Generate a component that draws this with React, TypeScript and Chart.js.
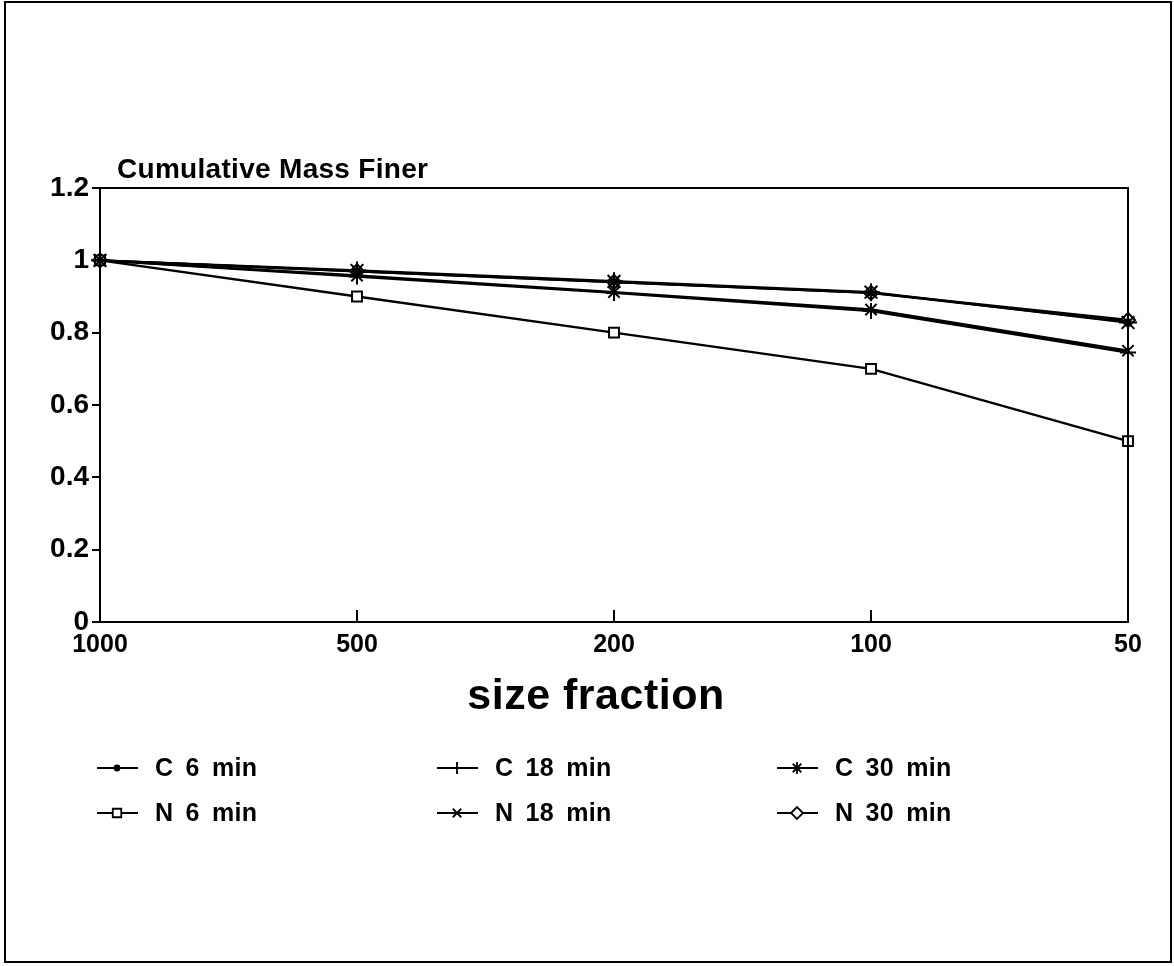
import React, { useEffect, useRef } from 'react';
import { Chart, registerables } from 'chart.js';
import { drawPoint } from 'chart.js/helpers';

Chart.register(...registerables);

const sizeFractions = ['1000', '500', '200', '100', '50'];
const seriesNames = ['C 6 min', 'C 18 min', 'C 30 min', 'N 6 min', 'N 18 min', 'N 30 min'];
const c6 = [1, 0.97, 0.94, 0.91, 0.83];
const c18 = [1, 0.955, 0.91, 0.86, 0.745];
const c30 = [1, 0.972, 0.942, 0.912, 0.828];
const n6 = [1, 0.9, 0.8, 0.7, 0.5];
const n18 = [1, 0.958, 0.912, 0.864, 0.75];
const n30 = [1, 0.97, 0.94, 0.91, 0.835];
const yTickLabels = ['0', '0.2', '0.4', '0.6', '0.8', '1', '1.2'];
const yTitle = 'Cumulative Mass Finer';
const xTitle = 'size fraction';

const pointStyles = ['circle', 'cross', 'star', 'rect', 'crossRot', 'rectRot'];
const pointRadii = [2.5, 8, 9, 7, 8, 7];

const FONT = '"Liberation Sans", Arial, sans-serif';

const decor = {
  id: 'decor',
  afterDraw(chart: any) {
    const { ctx, chartArea: a } = chart;
    const x = chart.scales.x;
    ctx.save();
    ctx.strokeStyle = '#000';
    ctx.fillStyle = '#000';
    ctx.lineWidth = 2;
    ctx.beginPath();
    ctx.moveTo(a.left, a.top);
    ctx.lineTo(a.right, a.top);
    ctx.lineTo(a.right, a.bottom);
    for (let i = 1; i < x.ticks.length - 1; i++) {
      const px = x.getPixelForTick(i);
      ctx.moveTo(px, a.bottom);
      ctx.lineTo(px, a.bottom - 12);
    }
    ctx.stroke();
    ctx.strokeRect(5, 2, 1166, 960);

    ctx.font = `bold 28px ${FONT}`;
    (ctx as any).letterSpacing = '0.3px';
    ctx.textAlign = 'left';
    ctx.textBaseline = 'alphabetic';
    ctx.fillText(yTitle, a.left + 17, a.top - 10);

    (ctx as any).letterSpacing = '0.5px';
    ctx.font = `bold 43px ${FONT}`;
    ctx.textAlign = 'center';
    ctx.textBaseline = 'middle';
    ctx.fillText(xTitle, (a.left + a.right) / 2 - 18, 697);

    ctx.font = `bold 25px ${FONT}`;
    (ctx as any).letterSpacing = '0.3px';
    (ctx as any).wordSpacing = '5px';
    ctx.textAlign = 'left';
    chart.data.datasets.forEach((ds: any, i: number) => {
      const col = i % 3;
      const row = Math.floor(i / 3);
      const x0 = 97 + col * 340;
      const y0 = 768 + row * 45;
      ctx.lineWidth = 1.8;
      ctx.beginPath();
      ctx.moveTo(x0, y0);
      ctx.lineTo(x0 + 41, y0);
      ctx.stroke();
      ctx.fillStyle = ds.pointStyle === 'circle' ? '#000' : '#fff';
      drawPoint(ctx, { pointStyle: ds.pointStyle, radius: Math.min(ds.pointRadius, 6), rotation: 0, borderWidth: 1.8 }, x0 + 20, y0);
      ctx.fillStyle = '#000';
      ctx.fillText(ds.label, x0 + 58, y0 + 1);
    });
    ctx.restore();
  },
};

export default function App() {
  const ref = useRef<HTMLCanvasElement>(null);
  useEffect(() => {
    if (!ref.current) return;
    const series = [c6, c18, c30, n6, n18, n30];
    const chart = new Chart(ref.current, {
      type: 'line',
      data: {
        labels: sizeFractions,
        datasets: series.map((d, i) => ({
          label: seriesNames[i],
          data: d,
          borderColor: '#000',
          borderWidth: 2.4,
          pointStyle: pointStyles[i] as any,
          pointRadius: pointRadii[i],
          pointBorderColor: '#000',
          pointBorderWidth: 2,
          pointBackgroundColor: i === 0 ? '#000' : '#fff',
          tension: 0,
          clip: false as any,
        })),
      },
      options: {
        animation: false,
        responsive: false,
        layout: { padding: { left: 0, right: 46, top: 188, bottom: 0 } },
        plugins: { legend: { display: false }, tooltip: { enabled: false } },
        scales: {
          x: {
            type: 'category',
            offset: false,
            afterFit: (s: any) => { s.height = 344; },
            grid: { display: false, drawTicks: false },
            border: { display: true, color: '#000', width: 2 },
            ticks: { color: '#000', padding: 8, maxRotation: 0, autoSkip: false, font: { family: FONT, size: 25, weight: 'bold' } },
          },
          y: {
            min: 0,
            max: 1.2,
            afterFit: (s: any) => { s.width = 100; },
            grid: { drawOnChartArea: false, drawTicks: true, tickLength: 8, color: '#000', lineWidth: 2 },
            border: { display: true, color: '#000', width: 2 },
            ticks: {
              stepSize: 0.2,
              padding: 3,
              color: '#000',
              font: { family: FONT, size: 28, weight: 'bold' },
              callback: (_v: any, idx: number) => yTickLabels[idx],
            },
          },
        },
      },
      plugins: [decor],
    });
    return () => chart.destroy();
  }, []);
  return (
    <div style={{ position: 'fixed', left: 0, top: 0, width: 1174, height: 966, background: '#fff' }}>
      <canvas ref={ref} width={1174} height={966} />
    </div>
  );
}
